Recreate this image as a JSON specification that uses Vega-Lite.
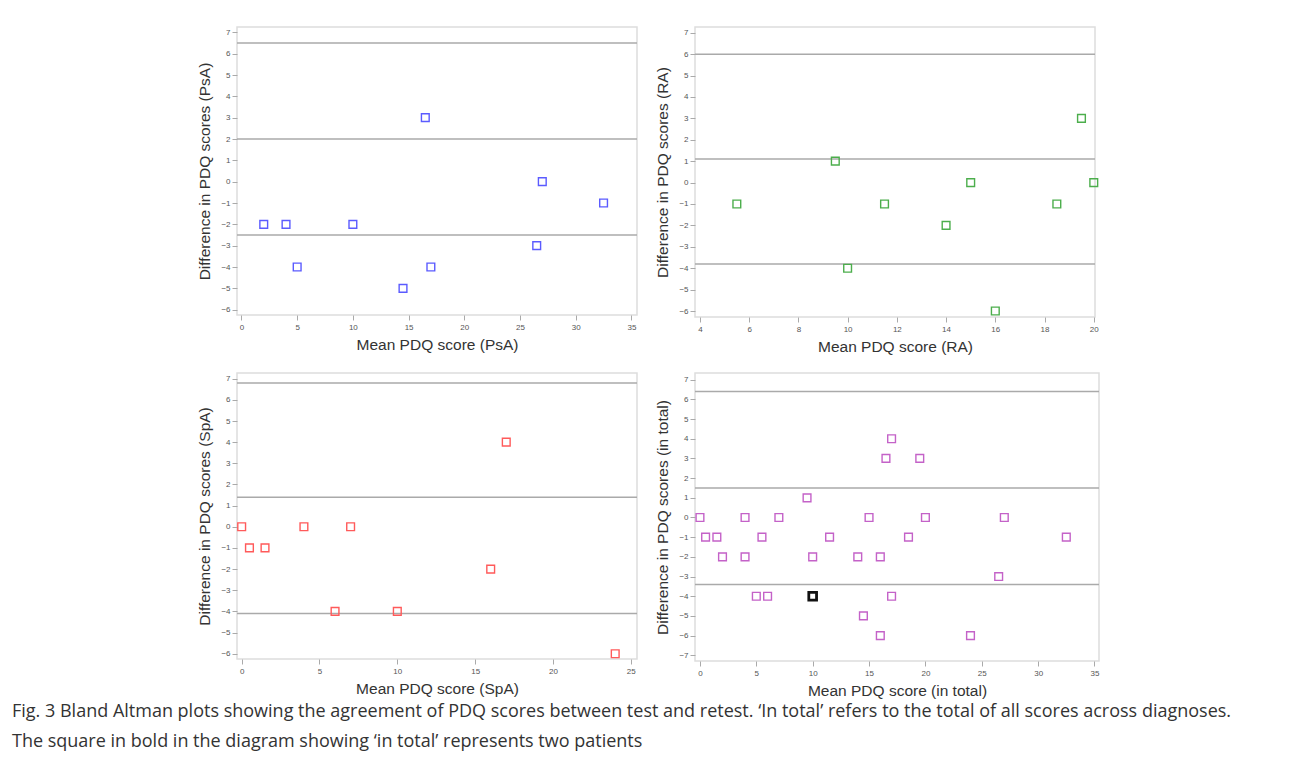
{
  "$schema": "https://vega.github.io/schema/vega-lite/v6.json",
  "background": "white",
  "padding": {"left": 12, "top": 26, "right": 10, "bottom": 10},
  "config": {
    "font": "Liberation Sans",
    "view": {"stroke": "#dddddd", "strokeWidth": 1.5},
    "axis": {
      "grid": false,
      "domain": false,
      "labelFontSize": 8,
      "labelColor": "#555555",
      "labelOverlap": false,
      "tickColor": "#aaaaaa",
      "tickSize": 5,
      "titleFontSize": 15.5,
      "titleFontWeight": "normal",
      "titleColor": "#333333",
      "titleFont": "Liberation Sans"
    },
    "axisX": {"titlePadding": 6, "labelPadding": 3},
    "axisY": {"titlePadding": 8, "labelPadding": 2},
    "concat": {"spacing": 16},
    "title": {"font": "Open Sans", "fontSize": 18, "fontWeight": "normal", "color": "#333333"}
  },
  "title": {
    "text": ["Fig. 3 Bland Altman plots showing the agreement of PDQ scores between test and retest. ‘In total’ refers to the total of all scores across diagnoses.", "The square in bold in the diagram showing ‘in total’ represents two patients"],
    "orient": "bottom",
    "anchor": "start",
    "frame": "group",
    "dx": -225,
    "offset": 4,
    "lineHeight": 30
  },
  "datasets": {
    "psa": [
      {"mean": 2, "diff": -2}, {"mean": 4, "diff": -2}, {"mean": 5, "diff": -4}, {"mean": 10, "diff": -2},
      {"mean": 14.5, "diff": -5}, {"mean": 16.5, "diff": 3}, {"mean": 17, "diff": -4}, {"mean": 26.5, "diff": -3},
      {"mean": 27, "diff": 0}, {"mean": 32.5, "diff": -1}
    ],
    "psa_lim": [{"y": 6.5}, {"y": 2}, {"y": -2.5}],
    "ra": [
      {"mean": 5.5, "diff": -1}, {"mean": 9.5, "diff": 1}, {"mean": 10, "diff": -4}, {"mean": 11.5, "diff": -1},
      {"mean": 14, "diff": -2}, {"mean": 15, "diff": 0}, {"mean": 16, "diff": -6}, {"mean": 18.5, "diff": -1},
      {"mean": 19.5, "diff": 3}, {"mean": 20, "diff": 0}
    ],
    "ra_lim": [{"y": 6}, {"y": 1.1}, {"y": -3.8}],
    "spa": [
      {"mean": 0, "diff": 0}, {"mean": 0.5, "diff": -1}, {"mean": 1.5, "diff": -1}, {"mean": 4, "diff": 0},
      {"mean": 6, "diff": -4}, {"mean": 7, "diff": 0}, {"mean": 10, "diff": -4}, {"mean": 16, "diff": -2},
      {"mean": 17, "diff": 4}, {"mean": 24, "diff": -6}
    ],
    "spa_lim": [{"y": 6.8}, {"y": 1.4}, {"y": -4.1}],
    "total": [
      {"mean": 0, "diff": 0, "n": 1}, {"mean": 0.5, "diff": -1, "n": 1}, {"mean": 1.5, "diff": -1, "n": 1},
      {"mean": 2, "diff": -2, "n": 1}, {"mean": 4, "diff": 0, "n": 1}, {"mean": 4, "diff": -2, "n": 1},
      {"mean": 5, "diff": -4, "n": 1}, {"mean": 5.5, "diff": -1, "n": 1}, {"mean": 6, "diff": -4, "n": 1},
      {"mean": 7, "diff": 0, "n": 1}, {"mean": 9.5, "diff": 1, "n": 1}, {"mean": 10, "diff": -2, "n": 1},
      {"mean": 10, "diff": -4, "n": 2}, {"mean": 11.5, "diff": -1, "n": 1}, {"mean": 14, "diff": -2, "n": 1},
      {"mean": 14.5, "diff": -5, "n": 1}, {"mean": 15, "diff": 0, "n": 1}, {"mean": 16, "diff": -2, "n": 1},
      {"mean": 16, "diff": -6, "n": 1}, {"mean": 16.5, "diff": 3, "n": 1}, {"mean": 17, "diff": 4, "n": 1},
      {"mean": 17, "diff": -4, "n": 1}, {"mean": 18.5, "diff": -1, "n": 1}, {"mean": 19.5, "diff": 3, "n": 1},
      {"mean": 20, "diff": 0, "n": 1}, {"mean": 24, "diff": -6, "n": 1}, {"mean": 26.5, "diff": -3, "n": 1},
      {"mean": 27, "diff": 0, "n": 1}, {"mean": 32.5, "diff": -1, "n": 1}
    ],
    "total_lim": [{"y": 6.4}, {"y": 1.5}, {"y": -3.4}]
  },
  "vconcat": [
    {
      "hconcat": [
        {
          "width": 400, "height": 288,
          "layer": [
            {
              "data": {"name": "psa_lim"},
              "mark": {"type": "rule", "color": "#aaaaaa", "strokeWidth": 1.5},
              "encoding": {"y": {"field": "y", "type": "quantitative", "title": "Difference in PDQ scores (PsA)", "scale": {"domain": [-6.25, 7.25], "nice": false, "zero": false}, "axis": {"values": [-6, -5, -4, -3, -2, -1, 0, 1, 2, 3, 4, 5, 6, 7]}}}
            },
            {
              "data": {"name": "psa"},
              "mark": {"type": "point", "shape": "square", "filled": false, "size": 60, "strokeWidth": 1.4, "color": "#5b5bff", "opacity": 1},
              "encoding": {
                "x": {"field": "mean", "type": "quantitative", "title": "Mean PDQ score (PsA)", "scale": {"domain": [-0.4, 35.5], "nice": false, "zero": false}, "axis": {"values": [0, 5, 10, 15, 20, 25, 30, 35]}},
                "y": {"field": "diff", "type": "quantitative", "title": "Difference in PDQ scores (PsA)", "axis": {"values": [-6, -5, -4, -3, -2, -1, 0, 1, 2, 3, 4, 5, 6, 7]}}
              }
            }
          ]
        },
        {
          "width": 400, "height": 290,
          "layer": [
            {
              "data": {"name": "ra_lim"},
              "mark": {"type": "rule", "color": "#aaaaaa", "strokeWidth": 1.5},
              "encoding": {"y": {"field": "y", "type": "quantitative", "title": "Difference in PDQ scores (RA)", "scale": {"domain": [-6.28, 7.27], "nice": false, "zero": false}, "axis": {"values": [-6, -5, -4, -3, -2, -1, 0, 1, 2, 3, 4, 5, 6, 7]}}}
            },
            {
              "data": {"name": "ra"},
              "mark": {"type": "point", "shape": "square", "filled": false, "size": 60, "strokeWidth": 1.4, "color": "#4cae4c", "opacity": 1},
              "encoding": {
                "x": {"field": "mean", "type": "quantitative", "title": "Mean PDQ score (RA)", "scale": {"domain": [3.8, 20.05], "nice": false, "zero": false}, "axis": {"values": [4, 6, 8, 10, 12, 14, 16, 18, 20]}},
                "y": {"field": "diff", "type": "quantitative", "title": "Difference in PDQ scores (RA)", "axis": {"values": [-6, -5, -4, -3, -2, -1, 0, 1, 2, 3, 4, 5, 6, 7]}}
              }
            }
          ]
        }
      ]
    },
    {
      "hconcat": [
        {
          "width": 400, "height": 286,
          "layer": [
            {
              "data": {"name": "spa_lim"},
              "mark": {"type": "rule", "color": "#aaaaaa", "strokeWidth": 1.5},
              "encoding": {"y": {"field": "y", "type": "quantitative", "title": "Difference in PDQ scores (SpA)", "scale": {"domain": [-6.25, 7.27], "nice": false, "zero": false}, "axis": {"values": [-6, -5, -4, -3, -2, -1, 0, 1, 2, 3, 4, 5, 6, 7]}}}
            },
            {
              "data": {"name": "spa"},
              "mark": {"type": "point", "shape": "square", "filled": false, "size": 60, "strokeWidth": 1.4, "color": "#ff5a5a", "opacity": 1},
              "encoding": {
                "x": {"field": "mean", "type": "quantitative", "title": "Mean PDQ score (SpA)", "scale": {"domain": [-0.3, 25.4], "nice": false, "zero": false}, "axis": {"values": [0, 5, 10, 15, 20, 25]}},
                "y": {"field": "diff", "type": "quantitative", "title": "Difference in PDQ scores (SpA)", "axis": {"values": [-6, -5, -4, -3, -2, -1, 0, 1, 2, 3, 4, 5, 6, 7]}}
              }
            }
          ]
        },
        {
          "width": 404, "height": 288,
          "layer": [
            {
              "data": {"name": "total_lim"},
              "mark": {"type": "rule", "color": "#aaaaaa", "strokeWidth": 1.5},
              "encoding": {"y": {"field": "y", "type": "quantitative", "title": "Difference in PDQ scores (in total)", "scale": {"domain": [-7.29, 7.34], "nice": false, "zero": false}, "axis": {"values": [-7, -6, -5, -4, -3, -2, -1, 0, 1, 2, 3, 4, 5, 6, 7]}}}
            },
            {
              "data": {"name": "total"},
              "mark": {"type": "point", "shape": "square", "filled": false, "size": 60, "opacity": 1},
              "encoding": {
                "x": {"field": "mean", "type": "quantitative", "title": "Mean PDQ score (in total)", "scale": {"domain": [-0.44, 35.4], "nice": false, "zero": false}, "axis": {"values": [0, 5, 10, 15, 20, 25, 30, 35]}},
                "y": {"field": "diff", "type": "quantitative", "title": "Difference in PDQ scores (in total)", "axis": {"values": [-7, -6, -5, -4, -3, -2, -1, 0, 1, 2, 3, 4, 5, 6, 7]}},
                "color": {"field": "n", "type": "nominal", "scale": {"domain": [1, 2], "range": ["#c462c8", "#111111"]}, "legend": null},
                "strokeWidth": {"field": "n", "type": "nominal", "scale": {"domain": [1, 2], "range": [1.4, 2.8]}, "legend": null}
              }
            }
          ]
        }
      ]
    }
  ]
}
